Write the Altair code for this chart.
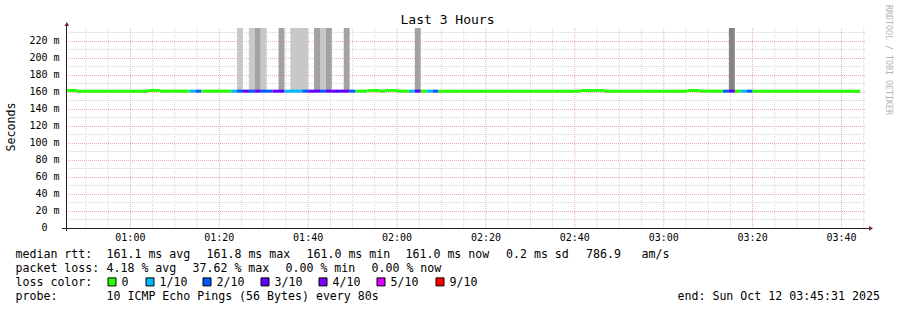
import altair as alt
import pandas as pd

# ------------------------------------------------------------------ data
TITLE = "Last 3 Hours"
Y_TITLE = "Seconds"
WATERMARK = "RRDTOOL / TOBI OETIKER"
RANGE_START = "00:45:31"
RANGE_END = "03:45:31"
Y_MAX = 4000 / 17  # ms at the top of the value axis (~235.3)

# median rtt, one entry per run of equal samples (80 s steps)
seg_start = ["00:45:20", "00:48:00", "01:04:00", "01:06:40", "01:13:20", "01:14:40",
             "01:16:00", "01:22:40", "01:24:00", "01:25:20", "01:26:40", "01:28:00",
             "01:29:20", "01:32:00", "01:34:40", "01:38:40", "01:40:00", "01:42:40",
             "01:44:00", "01:45:20", "01:49:20", "01:50:40", "01:53:20", "01:56:00",
             "01:57:20", "02:00:00", "02:02:40", "02:04:00", "02:05:20", "02:06:40",
             "02:08:00", "02:09:20", "02:41:20", "02:46:40", "03:05:20", "03:08:00",
             "03:13:20", "03:14:40", "03:16:00", "03:17:20", "03:18:40", "03:20:00"]
seg_median = [161.8, 161.0, 161.8, 161.0, 161.0, 161.0,
              161.0, 161.0, 161.0, 161.0, 161.0, 161.0,
              161.0, 161.0, 161.0, 161.0, 161.0, 161.0,
              161.0, 161.0, 161.0, 161.0, 161.8, 161.0,
              161.8, 161.0, 161.0, 161.0, 161.0, 161.0,
              161.0, 161.0, 161.8, 161.0, 161.8, 161.0,
              161.0, 161.0, 161.0, 161.0, 161.0, 161.0]
seg_loss = [0, 0, 0, 0, 1, 2,
            0, 1, 2, 3, 2, 3,
            2, 3, 1, 2, 3, 2,
            3, 3, 2, 0, 0, 0,
            0, 0, 1, 3, 0, 1,
            2, 0, 0, 0, 0, 0,
            2, 3, 0, 1, 2, 0]
data_end = "03:44:10"

# smoke (ping spread) that goes off the top of the graph
smoke_start = ["01:24:00", "01:26:40", "01:28:00", "01:29:20", "01:33:20", "01:36:00",
               "01:41:20", "01:42:40", "01:44:00", "01:48:00", "02:04:00", "03:14:40"]
smoke_end = ["01:25:20", "01:28:00", "01:29:20", "01:30:40", "01:34:40", "01:40:00",
             "01:42:40", "01:44:00", "01:45:20", "01:49:20", "02:05:20", "03:16:00"]
smoke_level = [1, 1, 2, 1, 2, 1, 2, 1, 2, 2, 2, 3]
smoke_base = 161.0

# axis ticks
x_tick_minutes = list(range(60, 221, 20))      # 01:00 .. 03:40
y_tick_values = list(range(20, 221, 20))       # 20 m .. 220 m (plus a bare "0")

# legend texts
rtt_label = "median rtt:"
rtt_stats = ["161.1 ms avg", "161.8 ms max", "161.0 ms min", "161.0 ms now",
             "0.2 ms sd", "786.9", "am/s"]
loss_label = "packet loss:"
loss_stats = ["4.18 % avg", "37.62 % max", "0.00 % min", "0.00 % now"]
lc_label = "loss color:"
lc_codes = [0, 1, 2, 3, 4, 5, 9]
lc_names = ["0", "1/10", "2/10", "3/10", "4/10", "5/10", "9/10"]
probe_label = "probe:"
probe_text = "10 ICMP Echo Pings (56 Bytes) every 80s"
end_text = "end: Sun Oct 12 03:45:31 2025"

# ------------------------------------------------------------------ styles / layout
MONO = "DejaVu Sans Mono"
LOSS_COLORS = {0: "#26ff00", 1: "#00b8ff", 2: "#0059ff", 3: "#5e00ff",
               4: "#7e00ff", 5: "#dd00ff", 9: "#ff0000"}
SMOKE_COLORS = {1: "#c8c8c8", 2: "#a2a2a2", 3: "#848484"}
GRID_MINOR = "#d6d6d6"
GRID_MAJOR = "#f0acac"
AXIS_C = "#202020"
ARROW_C = "#802020"

W, H = 800, 200          # plot area
OX, OY = 66, 28          # plot origin on the page
PAD = {"left": OX, "top": OY, "right": 897 - OX - W, "bottom": 310 - OY - H}

BASELINES = [258.3, 272.3, 286.2, 300.2]   # page y of the 4 legend lines
LEFT_X = 15.5
rtt_x = [106.5, 206.5, 306.5, 405.5, 506.0, 586.0, 641.5]
loss_x = [106.5, 192.5, 285.5, 371.5]
lc_box_x = [108, 146, 203, 261, 319, 377, 436]
lc_text_x = [121.5, 159.5, 216.5, 274.5, 332.5, 390.5, 449.5]
probe_x = 106.5
end_x = 677.5
YLAB_RIGHT = -6.5        # right edge of the value labels (plot coords)
ZERO_RIGHT = -18.5       # the bare "0" sits where the digits of "x0 m" end


def to_min(s):
    h, m, sec = (int(v) for v in s.split(":"))
    return h * 60 + m + sec / 60.0


xs = alt.Scale(domain=[to_min(RANGE_START), to_min(RANGE_END)], nice=False, zero=False)
ys = alt.Scale(domain=[0, Y_MAX], nice=False, zero=False)

# ------------------------------------------------------------------ tables
seg_df = pd.DataFrame({
    "t0": [to_min(s) for s in seg_start],
    "t1": [to_min(s) for s in seg_start[1:]] + [to_min(data_end)],
    "med": seg_median,
    "loss": seg_loss,
})
seg_df["c"] = seg_df["loss"].map(LOSS_COLORS)

smoke_df = pd.DataFrame({
    "t0": [to_min(s) for s in smoke_start],
    "t1": [to_min(s) for s in smoke_end],
    "lo": [smoke_base] * len(smoke_start),
    "lvl": smoke_level,
})
smoke_df["c"] = smoke_df["lvl"].map(SMOKE_COLORS)

minor_x = [m for m in range(50, 226, 5) if m % 20 != 0]
major_x = x_tick_minutes
minor_y = list(range(10, int(Y_MAX), 20))
major_y = y_tick_values

xlab_df = pd.DataFrame({"t": x_tick_minutes,
                        "lab": [f"{m // 60:02d}:{m % 60:02d}" for m in x_tick_minutes]})
ylab_df = pd.DataFrame({"v": y_tick_values,
                        "lab": [f"{v} m" for v in y_tick_values]})
zero_df = pd.DataFrame({"v": [0], "lab": ["0"]})

rows = []


def add(txt, px, line):
    rows.append({"txt": txt, "x": px - OX, "y": BASELINES[line] - OY})


add(rtt_label, LEFT_X, 0)
for t, px in zip(rtt_stats, rtt_x):
    add(t, px, 0)
add(loss_label, LEFT_X, 1)
for t, px in zip(loss_stats, loss_x):
    add(t, px, 1)
add(lc_label, LEFT_X, 2)
for t, px in zip(lc_names, lc_text_x):
    add(t, px, 2)
add(probe_label, LEFT_X, 3)
add(probe_text, probe_x, 3)
add(end_text, end_x, 3)
text_df = pd.DataFrame(rows)

sw_top = BASELINES[2] - 8.3 - OY
box_df = pd.DataFrame({
    "x0": [b - OX for b in lc_box_x],
    "x1": [b - OX + 8 for b in lc_box_x],
    "y0": [sw_top] * len(lc_box_x),
    "y1": [sw_top + 8] * len(lc_box_x),
    "c": [LOSS_COLORS[k] for k in lc_codes],
})

# ------------------------------------------------------------------ layers
one = pd.DataFrame({"k": [0]})

v_minor = alt.Chart(pd.DataFrame({"t": minor_x})).mark_rule(
    color=GRID_MINOR, strokeDash=[1, 1], strokeWidth=1).encode(
    x=alt.X("t:Q", scale=xs, axis=None), y=alt.value(0), y2=alt.value(H))
v_major = alt.Chart(pd.DataFrame({"t": major_x})).mark_rule(
    color=GRID_MAJOR, strokeDash=[1, 1], strokeWidth=1).encode(
    x=alt.X("t:Q", scale=xs, axis=None), y=alt.value(0), y2=alt.value(H))
h_minor = alt.Chart(pd.DataFrame({"v": minor_y})).mark_rule(
    color=GRID_MINOR, strokeDash=[1, 1], strokeWidth=1).encode(
    y=alt.Y("v:Q", scale=ys, axis=None), x=alt.value(0), x2=alt.value(W))
h_major = alt.Chart(pd.DataFrame({"v": major_y})).mark_rule(
    color=GRID_MAJOR, strokeDash=[1, 1], strokeWidth=1, yOffset=0.5).encode(
    y=alt.Y("v:Q", scale=ys, axis=None), x=alt.value(0), x2=alt.value(W))

smoke = alt.Chart(smoke_df).mark_rect(clip=True).encode(
    x=alt.X("t0:Q", scale=xs, axis=None), x2="t1:Q",
    y=alt.Y("lo:Q", scale=ys, axis=None), y2=alt.value(0),
    fill=alt.Fill("c:N", scale=None),
)

median = alt.Chart(seg_df).mark_rule(strokeWidth=3, strokeCap="butt", clip=True).encode(
    x=alt.X("t0:Q", scale=xs, axis=None), x2="t1:Q",
    y=alt.Y("med:Q", scale=ys, axis=None),
    color=alt.Color("c:N", scale=None),
)

x_labels = alt.Chart(xlab_df).mark_text(
    font=MONO, fontSize=10, align="center", baseline="alphabetic", color="#000000").encode(
    x=alt.X("t:Q", scale=xs, axis=None), y=alt.value(240.7 - OY), text="lab:N")
y_labels = alt.Chart(ylab_df).mark_text(
    font=MONO, fontSize=10, align="right", baseline="middle", color="#000000").encode(
    y=alt.Y("v:Q", scale=ys, axis=None), x=alt.value(YLAB_RIGHT), text="lab:N")
zero_label = alt.Chart(zero_df).mark_text(
    font=MONO, fontSize=10, align="right", baseline="middle", color="#000000").encode(
    y=alt.Y("v:Q", scale=ys, axis=None), x=alt.value(ZERO_RIGHT), text="lab:N")

y_line = alt.Chart(one).mark_rule(color=AXIS_C, strokeWidth=1).encode(
    x=alt.value(0.5), y=alt.value(-3), y2=alt.value(203))
x_line = alt.Chart(one).mark_rule(color=AXIS_C, strokeWidth=1).encode(
    y=alt.value(200.5), x=alt.value(-4), x2=alt.value(803))
up_arrow = alt.Chart(one).mark_point(shape="triangle-up", filled=True, size=22,
                                     color=ARROW_C, opacity=1).encode(
    x=alt.value(0.8), y=alt.value(-4))
right_arrow = alt.Chart(one).mark_point(shape="triangle-right", filled=True, size=22,
                                        color=ARROW_C, opacity=1).encode(
    x=alt.value(805), y=alt.value(200.3))

legend_text = alt.Chart(text_df).mark_text(
    font=MONO, fontSize=11.6, align="left", baseline="alphabetic", color="#000000").encode(
    x=alt.X("x:Q", scale=None), y=alt.Y("y:Q", scale=None), text="txt:N")

boxes = alt.Chart(box_df).mark_rect(stroke="#000000", strokeWidth=1).encode(
    x=alt.X("x0:Q", scale=None), x2="x1:Q",
    y=alt.Y("y0:Q", scale=None), y2="y1:Q",
    fill=alt.Fill("c:N", scale=None))

title = alt.Chart(one).mark_text(
    text=TITLE, font=MONO, fontSize=13, align="center", baseline="alphabetic",
    color="#000000").encode(x=alt.value(447.5 - OX), y=alt.value(24 - OY))
ytitle = alt.Chart(one).mark_text(
    text=Y_TITLE, font=MONO, fontSize=11.6, angle=270, align="center",
    baseline="middle", color="#000000").encode(x=alt.value(11.5 - OX), y=alt.value(127 - OY))
wmark = alt.Chart(one).mark_text(
    text=WATERMARK, font=MONO, fontSize=8.3, angle=90, align="left",
    baseline="middle", color="#b4b4b4").encode(x=alt.value(887.5 - OX), y=alt.value(5 - OY))

chart = alt.layer(
    v_minor, h_minor, v_major, h_major, smoke, median,
    x_labels, y_labels, zero_label,
    y_line, x_line, up_arrow, right_arrow,
    legend_text, boxes, title, ytitle, wmark,
).properties(
    width=W, height=H, padding=PAD, autosize=alt.AutoSizeParams(type="none"),
    background="#ffffff",
).configure_view(stroke=None)

chart.save("out.html", embed_options={"renderer": "svg", "actions": False})
